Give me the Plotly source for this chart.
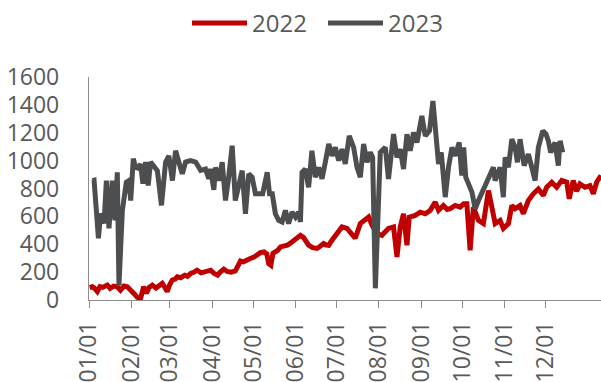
import pandas as pd
import plotly.graph_objects as go

# Both years share one month/day calendar; x values are day offsets from 1 January.
days_2022 = [0.5, 2.5, 4, 6.1, 8, 10, 13.4, 15.5, 18, 20.7, 23, 25.5, 28, 30, 31.7, 33.5,
             35.3, 37.8, 39, 40, 42, 44, 46.3, 49, 51, 53.6, 55.5, 57.2, 59, 60.9, 63, 64.5,
             67, 70, 72, 74.3, 77, 79, 82, 85, 89, 91.5, 94, 96, 98.6, 101, 104, 107, 109,
             110.8, 113, 115.5, 118, 121, 123.5, 125.3, 128, 130, 131.4, 133, 134.5, 138, 140,
             143, 145, 147.5, 149.7, 152, 154.6, 156.8, 158.5, 160.6, 163.5, 166.8, 169, 171.6,
             173.5, 175.3, 177, 178.9, 181.5, 183.8, 185, 188.7, 192.3, 194.7, 198.4, 202,
             204.5, 207, 210.6, 214.2, 217, 219, 222.7, 225.2, 227.6, 230, 232.5, 234.2, 238.6,
             242.2, 245.9, 249.5, 253.2, 255.6, 259.2, 262, 264.1, 267.8, 271.4, 274, 276.3,
             278.7, 281.1, 284.8, 288.4, 292.1, 294.6, 297, 300.6, 303, 306.7, 309.2, 311.6,
             315.2, 317.6, 321.3, 324.9, 328.6, 332.2, 334.7, 338.4, 342, 345.7, 349.3, 351.2,
             354.1, 356.6, 359, 362.7, 366.3, 368.8, 371.2, 374.4]
vals_2022 = [90, 95, 85, 60, 95, 90, 107, 83, 100, 95, 70, 100, 95, 70, 48, 40,
             19, 12, 60, 95, 50, 90, 107, 85, 100, 119, 90, 60, 110, 143, 150, 167,
             160, 178, 170, 190, 200, 214, 195, 205, 214, 190, 178, 200, 222, 205, 200, 209, 240,
             280, 274, 290, 298, 310, 330, 340, 345, 330, 262, 250, 335, 357, 381,
             390, 393, 410, 428, 445, 464, 450, 420, 393, 375, 370, 385, 405,
             395, 393, 420, 443, 480, 514, 524, 514, 476, 443, 548, 571,
             595, 535, 476, 464, 490, 514, 524, 309, 524, 619, 393, 595, 607,
             630, 619, 643, 702, 643, 678, 650, 655, 678, 666, 690, 690,
             357, 666, 571, 548, 785, 666, 548, 571, 514, 548, 678, 655,
             678, 619, 714, 762, 797, 750, 809, 845, 809, 857, 845, 726,
             857, 780, 833, 809, 821, 762, 845, 893]

days_2023 = [2.5, 3.7, 6.9, 8.5, 11, 12.7, 14.6, 17, 19, 20.7, 21.9, 24.4, 27.3, 29.2, 30.5,
             32.4, 34, 36, 37.7, 39.4, 41.4, 43.3, 45, 47.5, 50, 53, 56, 58.4, 61, 63.3, 65.7,
             68.2, 70.6, 74.3, 78, 81.6, 85.2, 87.6, 88.9, 91.3, 92.5, 95, 97.4, 99.8, 102,
             104.7, 107, 109.5, 112, 114.4, 116.8, 119.3, 121.7, 127, 130.3, 132, 134, 136.3,
             138.7, 141.2, 143.6, 146, 148.5, 151, 153.3, 154.6, 155.8, 158.2, 160.6, 163,
             165.5, 168, 170.4, 172.8, 175.3, 177.7, 180.1, 182.6, 185, 187.4, 190.3, 193.5,
             196, 198.4, 200.8, 203.3, 205.7, 207.4, 209.4, 213, 216.7, 219, 222.7, 225.2,
             227.6, 230, 232.5, 234.9, 237.3, 239.8, 243.4, 245.9, 249, 251.5, 253.2, 255.6,
             257.6, 260.5, 262.9, 265.4, 267.8, 270.7, 272.6, 274, 275.5, 277.5, 280, 282.4,
             284.8, 295.7, 297, 300.6, 303, 304.3, 306.7, 309.2, 311.6, 313.3, 315.2, 318.2,
             321.3, 323.8, 326.2, 328.6, 331.8, 334.2, 335.9, 337.6, 340.8, 343.2, 344.5, 346.4]
vals_2023 = [857, 860, 443, 621, 550, 857, 514, 857, 571, 916, 105, 643, 845, 857, 714,
             1014, 952, 945, 976, 835, 990, 821, 990, 960, 928, 679, 988, 1035, 857, 1071, 1000,
             905, 990, 1000, 990, 930, 940, 870, 940, 790, 952, 857, 988, 714, 869,
             1107, 714, 833, 928, 619, 905, 881, 762, 762, 916, 762, 762, 619,
             571, 560, 643, 548, 631, 595, 631, 560, 916, 940, 809, 1071,
             881, 952, 869, 988, 1119, 1035, 1095, 1000, 1083, 976, 1178, 1095,
             952, 881, 1119, 988, 1059, 1024, 84, 1059, 1095, 869, 1190, 1024,
             1083, 940, 1190, 1071, 1202, 1130, 1321, 1178, 1214, 1428, 1214, 976,
             1059, 738, 952, 1095, 1035, 1130, 893, 1095, 881, 833, 774, 655,
             714, 952, 857, 952, 738, 1024, 952, 1154, 1095, 988, 1154, 964,
             1047, 952, 857, 1095, 1214, 1190, 1142, 1059, 1130, 964, 1142, 1059]

tick_labels = ["01/01", "02/01", "03/01", "04/01", "05/01", "06/01",
               "07/01", "08/01", "09/01", "10/01", "11/01", "12/01"]

RED = "#C00000"
GREY = "#4D4E50"
AXIS = "#8C8C8C"
TEXT = "#595959"
FONT = "Open Sans"

base = pd.Timestamp("2022-01-01")


def to_dates(days):
    return [base + pd.to_timedelta(d, unit="D") for d in days]


tick_vals = [base + pd.DateOffset(months=i) for i in range(len(tick_labels))]

fig = go.Figure()
fig.add_trace(go.Scatter(x=to_dates(days_2022), y=vals_2022, mode="lines", name="2022",
                         line=dict(color=RED, width=5), showlegend=False))
fig.add_trace(go.Scatter(x=to_dates(days_2023), y=vals_2023, mode="lines", name="2023",
                         line=dict(color=GREY, width=5), showlegend=False))

# Plot area geometry in pixels, used to place the legend above it
W, H = 601, 382
L, R, T, B = 89, 0, 77, 82
pw, ph = W - L - R, H - T - B


def px_x(px):
    return (px - L) / pw


def px_y(py):
    return (H - B - py) / ph


legend_y = px_y(23)
for x0, x1, color, label in [(192, 247, RED, "2022"), (328, 383, GREY, "2023")]:
    fig.add_shape(type="line", xref="paper", yref="paper",
                  x0=px_x(x0), x1=px_x(x1), y0=legend_y, y1=legend_y,
                  line=dict(color=color, width=5))
    fig.add_annotation(xref="paper", yref="paper", x=px_x(x1 + 3), y=legend_y,
                       text=label, showarrow=False, xanchor="left", yanchor="middle",
                       font=dict(family=FONT, size=24, color=TEXT))

fig.update_layout(
    width=W, height=H,
    margin=dict(l=L, r=R, t=T, b=B),
    paper_bgcolor="white", plot_bgcolor="white",
    showlegend=False,
    font=dict(family=FONT, color=TEXT),
)
fig.update_xaxes(
    type="date", automargin=False,
    range=[base, base + pd.to_timedelta(374.4, unit="D")],
    tickvals=tick_vals, ticktext=tick_labels, tickangle=-90,
    tickfont=dict(family=FONT, size=23, color=TEXT),
    showgrid=False, zeroline=False,
    showline=True, linecolor=AXIS, linewidth=1.3,
    ticks="outside", ticklen=7, tickcolor=AXIS, tickwidth=1.3,
    ticklabelstandoff=4,
)
fig.update_yaxes(
    automargin=False,
    range=[0, 1600], tickvals=list(range(0, 1601, 200)),
    tickfont=dict(family=FONT, size=23, color=TEXT),
    showgrid=False, zeroline=False,
    showline=True, linecolor=AXIS, linewidth=1.3,
    ticks="", ticklabelstandoff=24,
)

fig.write_html("out.html")
